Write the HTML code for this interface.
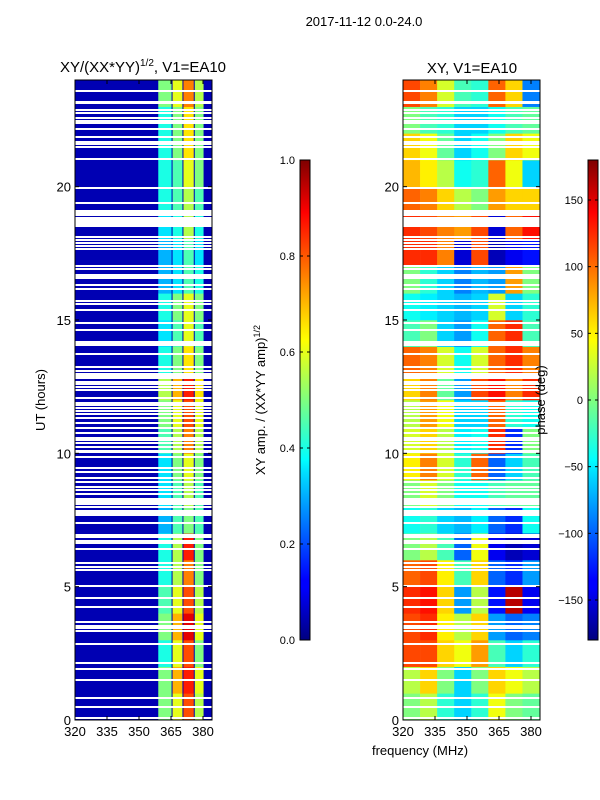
<!DOCTYPE html>
<html><head><meta charset="utf-8"><style>
body{margin:0;background:#fff;width:600px;height:800px;overflow:hidden}
svg{display:block;font-family:"Liberation Sans",sans-serif}
</style></head><body>
<svg id="fig" width="600" height="800">
<defs>
<linearGradient id="jet" x1="0" y1="1" x2="0" y2="0">
<stop offset="0" stop-color="#00007f"/><stop offset="0.11" stop-color="#0000ff"/><stop offset="0.125" stop-color="#0000ff"/>
<stop offset="0.35" stop-color="#00e0ff"/><stop offset="0.375" stop-color="#00ffff"/><stop offset="0.5" stop-color="#7fff7f"/>
<stop offset="0.625" stop-color="#ffff00"/><stop offset="0.66" stop-color="#ffe000"/><stop offset="0.89" stop-color="#ff0000"/>
<stop offset="1" stop-color="#7f0000"/></linearGradient>
</defs>
<text x="364" y="26" font-size="13" text-anchor="middle">2017-11-12 0.0-24.0</text>
<text x="143" y="72" font-size="15" text-anchor="middle">XY/(XX*YY)<tspan font-size="10" dy="-6">1/2</tspan><tspan dy="6">, V1=EA10</tspan></text>
<text x="472" y="73" font-size="15" text-anchor="middle">XY, V1=EA10</text>
<text x="420" y="755" font-size="13" text-anchor="middle">frequency (MHz)</text>
<text transform="translate(45,400) rotate(-90)" font-size="13" text-anchor="middle">UT (hours)</text>
<g id="amp"></g>
<g id="phs"></g>
<g id="cb"></g>
</svg>
<script>
const hours = [0,1,2,3,4,5,6,7,8,9,10,11,12,13,14,15,16,17,18,19,20,21,22,23];
const ampBandEdges = [358.8,365.5,370.6,375.9,380.5];
const ampBackground = 0.05;
const ampValues = [
[0.5,0.6,0.8,0.55],[0.5,0.7,0.85,0.6],[0.4,0.6,0.8,0.5],[0.5,0.7,0.9,0.6],[0.45,0.6,0.8,0.55],
[0.4,0.55,0.75,0.5],[0.4,0.55,0.85,0.5],[0.3,0.45,0.5,0.45],[0.35,0.45,0.55,0.45],[0.35,0.5,0.6,0.5],
[0.45,0.55,0.75,0.55],[0.5,0.6,0.8,0.6],[0.55,0.7,0.85,0.65],[0.4,0.5,0.65,0.5],[0.35,0.45,0.6,0.45],
[0.4,0.5,0.6,0.5],[0.3,0.35,0.45,0.4],[0.3,0.35,0.45,0.35],[0.35,0.4,0.55,0.4],[0.4,0.45,0.55,0.45],
[0.4,0.45,0.6,0.5],[0.4,0.5,0.65,0.5],[0.4,0.5,0.65,0.5],[0.5,0.6,0.75,0.55]];
const phaseBandEdges = [320,328,336,344,352,360,368,376,384];
const phaseValues = [
[0,20,-30,-60,-30,40,0,-10],[20,60,0,-60,0,60,40,20],[110,110,60,40,80,-20,-60,-30],[110,120,50,20,60,-80,-100,-90],
[120,130,60,-80,20,-130,160,-140],[100,110,50,-20,60,-100,-120,-80],[0,20,-20,-100,40,-140,-160,-150],[-40,-30,-60,-70,-50,-100,-120,-40],
[0,30,0,-40,-40,-20,-10,-10],[50,90,30,-30,100,-100,-60,-20],[30,60,20,-50,-40,120,-120,0],[20,80,40,-60,-60,100,-30,-40],
[60,90,-10,-80,110,130,90,120],[100,90,30,-40,30,100,120,90],[-20,0,-60,-80,-40,100,120,-20],[-40,-50,-60,-70,-60,30,-60,-30],
[0,-30,-60,-90,-70,-80,80,0],[120,120,90,-150,110,-160,-140,-130],[120,110,90,80,110,-150,100,130],[100,90,60,20,0,80,60,60],
[70,50,20,-40,-30,100,40,-60],[60,40,-10,-60,-40,0,60,40],[0,-20,-30,-60,-60,-40,-20,-10],[110,90,30,-20,-30,100,60,-90]];
const gapCenters = [23.59,23.17,22.87,22.76,22.57,22.46,22.39,22.16,21.86,21.67,21.6,21.49,21.04,19.95,19.39,19.09,19.01,18.94,18.67,18.11,18.0,17.89,17.77,17.66,17.02,16.91,16.63,16.31,16.16,15.71,15.6,15.37,14.89,14.62,14.12,13.72,13.24,13.09,12.97,12.9,12.82,12.67,12.6,12.49,12.37,12.07,11.85,11.7,11.59,11.47,11.33,11.14,10.95,10.76,10.57,10.5,10.39,10.24,10.07,9.86,9.45,9.3,9.07,8.92,8.74,8.62,8.47,8.19,7.99,7.76,7.39,6.94,6.86,6.68,6.41,5.89,5.74,5.62,5.02,4.57,4.24,3.67,3.52,3.45,3.34,2.85,2.14,1.91,1.5,0.82,0.49,0.07];
const gapDurations = {23.17:0.1,18.67:0.38,16.63:0.19,14.12:0.19,11.85:0.15,10.07:0.12,8.19:0.26,7.76:0.23,6.68:0.15};
const xTicks = [320,335,350,365,380];
const yTicks = [0,5,10,15,20];
const ampCbTicks = [0.0,0.2,0.4,0.6,0.8,1.0];
const phaseCbTicks = [-150,-100,-50,0,50,100,150];

const NS="http://www.w3.org/2000/svg";
function mk(tag,attrs,parent){const e=document.createElementNS(NS,tag);for(const k in attrs)e.setAttribute(k,attrs[k]);parent.appendChild(e);return e;}
function jet(v){v=Math.max(0,Math.min(1,v));const c=t=>Math.round(255*Math.max(0,Math.min(1,1.5-Math.abs(4*v-t))));return `rgb(${c(3)},${c(2)},${c(1)})`;}
const yS=h=>720-h*(640/24);
function xS(x0){return f=>x0+(f-320)*(128/60);}
const panels=[{g:document.getElementById('amp'),x0:75,name:'amp'},{g:document.getElementById('phs'),x0:403,name:'phase'}];

{const g=panels[0].g,xs=xS(75);
 const bg=mk('rect',{x:75,y:80,width:137,height:640,fill:jet(ampBackground)},g);
 
 
 hours.forEach((h,i)=>{ampValues[i].forEach((v,j)=>{
  const x1=xs(ampBandEdges[j])+0.5,x2=xs(ampBandEdges[j+1])-0.5;
  const r=mk('rect',{x:x1,y:yS(h+1),width:x2-x1,height:640/24+0.3,fill:jet(v)},g);
  
  
 });});}
{const g=panels[1].g,xs=xS(403);
 hours.forEach((h,i)=>{phaseValues[i].forEach((v,j)=>{
  const x1=xs(phaseBandEdges[j]),x2=Math.min(540,xs(phaseBandEdges[j+1]));
  const r=mk('rect',{x:x1,y:yS(h+1),width:x2-x1+0.3,height:640/24+0.3,fill:jet((v+180)/360)},g);
  
  
 });});}
panels.forEach(p=>{
 const xs=xS(p.x0);
 gapCenters.forEach(c=>{const d=gapDurations[c]||0.05;
  const hpx=Math.max(2,Math.round(d*640/24));
  const r=mk('rect',{x:p.x0,y:Math.round(yS(c)-hpx/2),width:137,height:hpx,fill:'#fff','shape-rendering':'crispEdges'},p.g);
  
  });
 const fr=mk('rect',{x:p.x0,y:80,width:137,height:640,fill:'none',stroke:'#000','stroke-width':1},p.g);
 
 
 xTicks.forEach(t=>{const x=xs(t);
  mk('line',{x1:x,y1:720,x2:x,y2:716,stroke:'#000'},p.g);
  mk('line',{x1:x,y1:80,x2:x,y2:84,stroke:'#000'},p.g);
  const tx=mk('text',{x:x,y:736,'font-size':13,'text-anchor':'middle'},p.g);tx.textContent=t;
  
  });
 yTicks.forEach(t=>{const y=yS(t);
  mk('line',{x1:p.x0,y1:y,x2:p.x0+4,y2:y,stroke:'#000'},p.g);
  mk('line',{x1:p.x0+137,y1:y,x2:p.x0+133,y2:y,stroke:'#000'},p.g);
  const tx=mk('text',{x:p.x0-4,y:y+5,'font-size':13,'text-anchor':'end'},p.g);tx.textContent=t;
  
  });
});
const cb=document.getElementById('cb');
[{x:300,ticks:ampCbTicks,lo:0,hi:1,fmt:t=>t.toFixed(1),label:'amp'},{x:588,ticks:phaseCbTicks,lo:-180,hi:180,fmt:t=>t<0?'\u2212'+(-t):''+t,label:'phase'}].forEach(c=>{
 const r=mk('rect',{x:c.x,y:160,width:10,height:480,fill:'url(#jet)',stroke:'#000','stroke-width':1},cb);
 
 
 c.ticks.forEach(t=>{const y=640-(t-c.lo)/(c.hi-c.lo)*480;
  mk('line',{x1:c.x,y1:y,x2:c.x+3,y2:y,stroke:'#000'},cb);
  mk('line',{x1:c.x+10,y1:y,x2:c.x+7,y2:y,stroke:'#000'},cb);
  const tx=mk('text',{x:c.x-5,y:y+4,'font-size':11,'text-anchor':'end'},cb);tx.textContent=c.fmt(t);
  
  });
});
const l1=mk('text',{transform:'translate(265,400) rotate(-90)','font-size':13,'text-anchor':'middle'},cb);
l1.innerHTML='XY amp. / (XX*YY amp)<tspan font-size="9" dy="-5">1/2</tspan>';


const l2=mk('text',{transform:'translate(545,400) rotate(-90)','font-size':13,'text-anchor':'middle'},cb);
l2.textContent='phase (deg)';


</script>
</body></html>
